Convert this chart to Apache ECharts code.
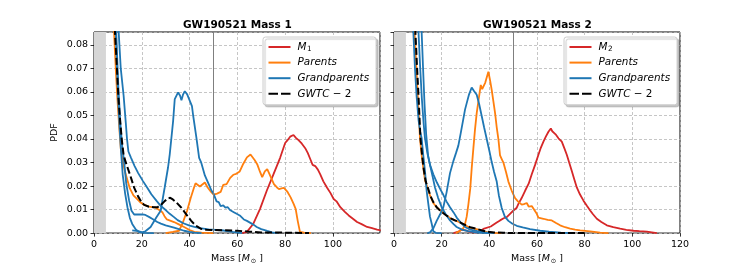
<!DOCTYPE html>
<html>
<head>
<meta charset="utf-8">
<script src="https://cdn.jsdelivr.net/npm/echarts@6/dist/echarts.min.js"></script>
<style>html,body{margin:0;padding:0;background:#fff}#c{width:756px;height:270px}</style>
</head>
<body>
<div id="c"></div>
<script>
// ---------- data (mass [Msun], PDF) ----------
const xTicksLeft = [0, 20, 40, 60, 80, 100];
const xTicksRight = [0, 20, 40, 60, 80, 100, 120];
const yTicks = [0, 0.01, 0.02, 0.03, 0.04, 0.05, 0.06, 0.07, 0.08];

// Left panel: Mass 1
const m1Left = [[62,0],[64,0.0005],[66.7,0.004],[69.5,0.0103],[72.3,0.018],[75.1,0.025],[77.9,0.032],[80,0.0383],[81,0.0395],[82.1,0.041],[83.5,0.0417],[84.5,0.0405],[85.6,0.0395],[87,0.038],[88.4,0.0361],[89.5,0.034],[90.5,0.0315],[91.5,0.029],[92.6,0.0285],[93.7,0.027],[94.7,0.025],[96,0.022],[97.5,0.0194],[99,0.017],[100.3,0.0145],[101.5,0.0135],[103.1,0.011],[105,0.009],[106.6,0.0075],[108.5,0.006],[110.1,0.0047],[112,0.0038],[114.3,0.0026],[116,0.0022],[118.5,0.0015],[120,0.0012]];
const parentHeavyLeft = [[30,0],[33,0.0005],[35.6,0.001],[37,0.004],[39,0.0096],[40.5,0.015],[41.9,0.0195],[42.5,0.0212],[44.3,0.0198],[45,0.0203],[46.4,0.0215],[47.5,0.0195],[49,0.0175],[50.1,0.0164],[51.5,0.0168],[53,0.0175],[54.1,0.0205],[55.5,0.0208],[57,0.0235],[58.3,0.0248],[59.5,0.0252],[61,0.0262],[62.5,0.0295],[64,0.0322],[65.5,0.0334],[66.2,0.0338],[67.3,0.031],[68.3,0.0293],[69.5,0.026],[70.4,0.0238],[71.5,0.0262],[72.5,0.0272],[73.5,0.025],[75.3,0.0208],[76.5,0.0195],[77.4,0.0187],[78.5,0.019],[79.5,0.0192],[81,0.0175],[82.3,0.0152],[83.5,0.0125],[84.4,0.0103],[85.3,0.005],[86.2,0.0005],[88,0.0002],[90.8,0]];
const parentLightLeft = [[7.8,0.1],[8.5,0.083],[9.2,0.068],[9.8,0.057],[10.5,0.046],[11.2,0.036],[12,0.0305],[13,0.026],[14,0.0225],[15,0.019],[16.5,0.016],[18.2,0.0143],[19.5,0.013],[21,0.012],[23,0.0113],[25.8,0.0108],[27,0.01],[28.6,0.0089],[29.5,0.0072],[30.5,0.0058],[33.5,0.0047],[35.5,0.0037],[37.7,0.0026],[40,0.0013],[42,0.0005],[45,0.0002],[50,0]];
const gpPeakLeft = [[16,0.0012],[18.5,0.0008],[20.2,0.0003],[21.5,0.0008],[23.7,0.0026],[26,0.0065],[27.9,0.0095],[29.6,0.0195],[31,0.028],[31.7,0.0335],[33.1,0.0475],[33.8,0.057],[35.2,0.0598],[36,0.0585],[36.6,0.0565],[37.3,0.059],[38,0.0603],[39,0.059],[39.8,0.0584],[41,0.054],[41.5,0.05],[42.9,0.0403],[44,0.032],[44.8,0.0302],[46.4,0.0245],[47.5,0.022],[49.2,0.018],[50.1,0.0166],[51.3,0.0135],[52.2,0.0132],[53,0.0115],[54.1,0.0118],[55,0.0108],[56,0.011],[56.9,0.0098],[58.5,0.0089],[59.7,0.0082],[61,0.0075],[62.7,0.0058],[64,0.0052],[66.9,0.0035],[68.1,0.0026],[70,0.0017],[72.5,0.0009],[74.5,0.0003],[76.7,0]];
const gpSteepLeft = [[8.5,0.1],[9.3,0.08],[10,0.06],[10.7,0.045],[11.3,0.035],[12,0.025],[13,0.017],[14,0.011],[15,0.0065],[16,0.0039],[17.5,0.0015],[19,0.0004],[21,0.0001],[25,0]];
const gpKinkLeft = [[9.8,0.1],[10.3,0.086],[11.2,0.07],[12.4,0.0584],[13.3,0.047],[13.8,0.0402],[14.4,0.0347],[15.5,0.032],[17,0.0285],[18.5,0.0255],[20.5,0.0221],[22.5,0.019],[24,0.0165],[26.1,0.0138],[28,0.0115],[30,0.0098],[31.7,0.0082],[33.5,0.0068],[35,0.0055],[37.4,0.0042],[40,0.0032],[42,0.0026],[44.3,0.0021],[48,0.0016],[54.1,0.0011],[58,0.0005],[62,0]];
const gpPlateauLeft = [[8.8,0.1],[9.5,0.08],[10.2,0.062],[11,0.047],[11.8,0.037],[12.6,0.0305],[13.5,0.021],[14.7,0.0138],[15.7,0.0095],[16.8,0.0079],[18.5,0.0079],[20.2,0.008],[21.5,0.0077],[23,0.0069],[24.5,0.006],[26.5,0.0047],[28,0.004],[30,0.0033],[33.5,0.0023],[35.5,0.0017],[37.7,0.001],[40,0.0005],[42,0.0002],[45,0]];
const gwtcLeft = [[8.3,0.1],[8.8,0.085],[9.5,0.072],[10.2,0.058],[11,0.047],[11.6,0.04],[12.3,0.034],[13,0.031],[14,0.028],[15.5,0.0235],[16.8,0.0193],[18.5,0.0155],[20,0.013],[21,0.012],[23,0.0112],[25,0.011],[26.6,0.011],[28,0.012],[29.5,0.0135],[31,0.0148],[31.9,0.015],[33,0.0143],[34.5,0.013],[36.4,0.011],[38,0.0088],[40.6,0.0053],[42.5,0.0033],[44.8,0.0018],[47,0.0014],[50,0.0013],[55,0.0012],[60,0.001],[65,0.0006],[70,0.0003],[80,0.0002],[90,0]];

// Right panel: Mass 2
const m2Right = [[25,0],[27,0.0006],[28.5,0.0015],[30,0.0012],[31.5,0.0006],[33,0.0003],[35,0.0003],[36.5,0.0008],[37.5,0.0018],[38.2,0.0024],[40.6,0.0028],[43.1,0.0045],[44.5,0.0054],[46,0.0063],[47.3,0.0068],[48.7,0.0082],[50,0.0095],[51.5,0.0108],[52.2,0.0124],[53.5,0.0148],[55,0.018],[56.5,0.021],[57.8,0.025],[59.2,0.029],[60.6,0.0333],[61.5,0.036],[62.7,0.0389],[63.7,0.041],[64.8,0.0431],[65.3,0.0425],[65.8,0.0445],[66.4,0.0433],[66.9,0.0438],[67.8,0.042],[69,0.0403],[70.4,0.0389],[71.5,0.036],[72.5,0.0333],[73.5,0.03],[74.6,0.0264],[75.6,0.023],[76.7,0.0194],[78,0.0165],[79.5,0.0138],[81,0.0115],[82.3,0.0096],[83.5,0.008],[85.1,0.0061],[87,0.0047],[89.3,0.0033],[92,0.0025],[94.9,0.0019],[97.5,0.0014],[100.5,0.001],[103,0.0008],[106.1,0.0006],[110.3,0]];
const parentPeakRight = [[26,0],[27.7,0.001],[29,0.002],[29.8,0.0038],[30.5,0.007],[31.2,0.0121],[32,0.019],[32.6,0.0275],[33.3,0.036],[34,0.0442],[34.7,0.051],[35.4,0.056],[36.4,0.063],[37,0.0612],[37.5,0.0609],[38.3,0.064],[39.6,0.0686],[40.3,0.065],[41,0.0609],[41.7,0.056],[42.4,0.0511],[43.1,0.045],[43.8,0.04],[44.5,0.033],[45.2,0.0315],[45.9,0.03],[47,0.026],[48,0.0219],[49.4,0.018],[50.8,0.0149],[52,0.0135],[53.6,0.0121],[54.5,0.0123],[55.7,0.0128],[56.5,0.0113],[57.8,0.0115],[58.5,0.0107],[59.9,0.0082],[60.6,0.0066],[62.7,0.0061],[64.5,0.0056],[66.2,0.0054],[68,0.0043],[69.7,0.0033],[71.8,0.0025],[73.9,0.0019],[76,0.0015],[78.1,0.0012],[82.3,0.0007],[86.5,0.0002],[90,0]];
const parentLightRight = [[8.2,0.1],[8.6,0.086],[9.3,0.072],[10,0.058],[10.9,0.0403],[11.5,0.034],[12.2,0.0285],[13,0.0225],[14,0.0195],[15.1,0.016],[16.5,0.0128],[17.9,0.011],[19.6,0.0095],[22.1,0.0075],[23.8,0.0062],[25.5,0.0055],[27.7,0.0045],[30,0.0033],[32,0.0022],[34.7,0.0017],[37,0.0009],[39.2,0.0004],[42,0.0001],[45,0]];
const gpPeakRight = [[14,0],[15.1,0.0003],[16.5,0.002],[17.9,0.0052],[19.3,0.0079],[20.7,0.011],[22,0.017],[23.5,0.0255],[24.9,0.0306],[26,0.034],[27,0.0372],[28,0.0425],[29,0.048],[29.8,0.0525],[30.7,0.056],[31.5,0.059],[32.6,0.0619],[33.5,0.0605],[34.7,0.0588],[35.7,0.055],[36.8,0.0498],[37.8,0.045],[38.9,0.04],[40,0.035],[41,0.0302],[42,0.026],[43.1,0.0219],[44,0.016],[45.2,0.0107],[46.5,0.007],[48,0.0052],[49.7,0.004],[51.5,0.0031],[54,0.0024],[57.1,0.0017],[61.3,0.001],[65,0.0006],[70,0.0002],[75,0]];
const gpSteepRight = [[7.8,0.1],[8.1,0.086],[8.8,0.07],[9.5,0.058],[10.3,0.048],[11,0.043],[11.6,0.0403],[12.3,0.033],[13,0.0264],[13.7,0.018],[14.4,0.0124],[15.1,0.007],[15.8,0.0041],[16.5,0.0008],[17.5,0.0001],[20,0]];
const gpKinkRight = [[11.2,0.1],[11.6,0.0855],[12.2,0.07],[12.8,0.055],[13.5,0.042],[14.3,0.033],[15.1,0.029],[16.5,0.025],[18,0.0215],[19.5,0.0185],[20.7,0.0163],[22,0.0135],[23.5,0.011],[25,0.0088],[26.3,0.0066],[28,0.0045],[29.8,0.0026],[32,0.0015],[35,0.0008],[38,0.0003],[42,0]];
const gpMidRight = [[9.8,0.1],[10.3,0.085],[11,0.07],[11.7,0.057],[12.4,0.047],[13,0.0403],[14,0.034],[15.1,0.029],[16.2,0.024],[17.2,0.0194],[18.5,0.015],[20,0.011],[21.7,0.008],[23.5,0.0054],[25,0.0038],[26.3,0.0026],[28.5,0.0015],[31,0.0008],[35,0.0002],[40,0]];
const gwtcRight = [[8.6,0.1],[9,0.085],[9.6,0.072],[10.3,0.058],[11.1,0.0403],[11.8,0.033],[12.5,0.027],[13.3,0.022],[14.3,0.019],[15.3,0.0158],[16.5,0.0132],[17.9,0.011],[19.6,0.0093],[22.1,0.0074],[23.8,0.0063],[25.5,0.0054],[27.7,0.0046],[30,0.0034],[32,0.0025],[34.7,0.0018],[37,0.0011],[39.2,0.0006],[42,0.0003],[46,0.0001],[55,0.00005],[80,0]];

const excludedRange = [0, 5];
const cutLine = 50;
const titles = ['GW190521 Mass 1', 'GW190521 Mass 2'];

// ---------- styles ----------
const RED = '#d62728', ORANGE = '#ff7f0e', BLUE = '#1f77b4', BLACK = '#000000';
const FONT = 'DejaVu Sans';
const LW = 1.8;
const DASH = [7, 3];
const ICON_SOLID = 'path://M0,0h22v2h-22z';
const ICON_DASH = 'path://M0,0h9.5v2h-9.5zM12.5,0h9.5v2h-9.5z';

function lineSeries(name, data, color, idx, dashed) {
  return {
    type: 'line', name: name, data: data, xAxisIndex: idx, yAxisIndex: idx,
    showSymbol: false, symbol: 'none', clip: true, silent: true,
    lineStyle: { color: color, width: dashed ? 2 : LW, type: dashed ? DASH : 'solid', cap: 'butt' },
    itemStyle: { color: color }
  };
}
function decorate(s) {
  s.markArea = { silent: true, itemStyle: { color: '#d6d6d6' },
    data: [[{ xAxis: excludedRange[0] }, { xAxis: excludedRange[1] }]] };
  s.markLine = { silent: true, symbol: 'none', label: { show: false },
    lineStyle: { color: '#7f7f7f', width: 1, type: 'solid' },
    data: [{ xAxis: cutLine }] };
  return s;
}

const series = [
  decorate(lineSeries('M1', m1Left, RED, 0)),
  lineSeries('Parents', parentHeavyLeft, ORANGE, 0),
  lineSeries('Parents', parentLightLeft, ORANGE, 0),
  lineSeries('Grandparents', gpPeakLeft, BLUE, 0),
  lineSeries('Grandparents', gpSteepLeft, BLUE, 0),
  lineSeries('Grandparents', gpKinkLeft, BLUE, 0),
  lineSeries('Grandparents', gpPlateauLeft, BLUE, 0),
  lineSeries('GWTC-2', gwtcLeft, BLACK, 0, true),
  decorate(lineSeries('M2', m2Right, RED, 1)),
  lineSeries('Parents', parentPeakRight, ORANGE, 1),
  lineSeries('Parents', parentLightRight, ORANGE, 1),
  lineSeries('Grandparents', gpPeakRight, BLUE, 1),
  lineSeries('Grandparents', gpSteepRight, BLUE, 1),
  lineSeries('Grandparents', gpKinkRight, BLUE, 1),
  lineSeries('Grandparents', gpMidRight, BLUE, 1),
  lineSeries('GWTC-2', gwtcRight, BLACK, 1, true)
];

const gridStyle = { show: true, borderColor: '#000', borderWidth: 1, backgroundColor: 'transparent', top: 32, height: 204, width: 286 };
const splitStyle = { show: true, lineStyle: { color: '#b8b8b8', width: 0.8, type: [3, 2] } };
const tickStyle = { show: true, inside: false, length: 3.5, lineStyle: { color: '#000', width: 0.8 } };

function xAxis(idx, ticks, max) {
  return {
    type: 'value', gridIndex: idx, min: ticks[0], max: max, interval: ticks[1] - ticks[0],
    axisLine: { show: false }, axisTick: tickStyle, splitLine: splitStyle,
    axisLabel: { show: true, color: '#000', fontFamily: FONT, fontSize: 9.5, margin: 6,
      showMaxLabel: max === ticks[ticks.length - 1] },
    name: '{n|Mass [}{i|M}{s|⊙}{n| ]}', nameLocation: 'middle', nameGap: 18,
    nameTextStyle: { color: '#000', fontFamily: FONT, fontSize: 9.5,
      rich: { n: { fontFamily: FONT, fontSize: 9.5, color: '#000' },
              i: { fontFamily: FONT, fontSize: 9.5, fontStyle: 'italic', color: '#000' },
              s: { fontFamily: FONT, fontSize: 6.5, color: '#000', padding: [5, 0, 0, 1] } } }
  };
}
function yAxis(idx, showLabels) {
  return {
    type: 'value', gridIndex: idx, min: yTicks[0], max: 0.0855, interval: yTicks[1] - yTicks[0],
    axisLine: { show: false }, axisTick: tickStyle, splitLine: splitStyle,
    axisLabel: { show: showLabels, color: '#000', fontFamily: FONT, fontSize: 9.5, margin: 6,
      showMaxLabel: false, formatter: v => v.toFixed(2) },
    name: showLabels ? 'PDF' : '', nameLocation: 'middle', nameGap: 34, nameRotate: 90,
    nameTextStyle: { color: '#000', fontFamily: FONT, fontSize: 9.5 }
  };
}

function legend(left, first) {
  return {
    orient: 'vertical', left: left, top: 37,
    data: [
      { name: first, icon: ICON_SOLID },
      { name: 'Parents', icon: ICON_SOLID },
      { name: 'Grandparents', icon: ICON_SOLID },
      { name: 'GWTC-2', icon: ICON_DASH }
    ],
    itemWidth: 22, itemHeight: 2, itemGap: 3.6,
    padding: [4, 7, 5, 5.5],
    backgroundColor: '#fff', borderColor: '#cccccc', borderWidth: 1, borderRadius: 2.5,
    shadowColor: 'rgba(0,0,0,0.22)', shadowBlur: 1, shadowOffsetX: 2, shadowOffsetY: 2,
    selectedMode: false,
    formatter: function (name) {
      if (name === 'M1') return '{i|M}{s|1}';
      if (name === 'M2') return '{i|M}{s|2}';
      if (name === 'GWTC-2') return '{i|GWTC}{n| − 2}';
      return '{i|' + name + '}';
    },
    textStyle: {
      fontFamily: FONT, fontSize: 10.4, color: '#000', padding: [0, 0, 0, 2], lineHeight: 12,
      rich: {
        i: { fontFamily: FONT, fontSize: 10.4, fontStyle: 'italic', color: '#000', lineHeight: 12 },
        n: { fontFamily: FONT, fontSize: 10.4, color: '#000', lineHeight: 12 },
        s: { fontFamily: FONT, fontSize: 7.3, color: '#000', padding: [5, 0, 0, 0.5] }
      }
    }
  };
}

const option = {
  animation: false,
  backgroundColor: '#fff',
  grid: [Object.assign({ left: 94 }, gridStyle), Object.assign({ left: 394 }, gridStyle)],
  xAxis: [xAxis(0, xTicksLeft, 119.7), xAxis(1, xTicksRight, 120)],
  yAxis: [yAxis(0, true), yAxis(1, false)],
  legend: [legend(263, 'M1'), legend(564, 'M2')],
  graphic: [
    { type: 'text', left: 237 - 54, top: 20, style: { text: titles[0], fontFamily: FONT, fontWeight: 'bold', fontSize: 10.5, fill: '#000' } },
    { type: 'text', left: 537 - 54, top: 20, style: { text: titles[1], fontFamily: FONT, fontWeight: 'bold', fontSize: 10.5, fill: '#000' } }
  ],
  series: series
};

const chart = echarts.init(document.getElementById('c'), null, { renderer: 'canvas' });
chart.setOption(option);
</script>
</body>
</html>
